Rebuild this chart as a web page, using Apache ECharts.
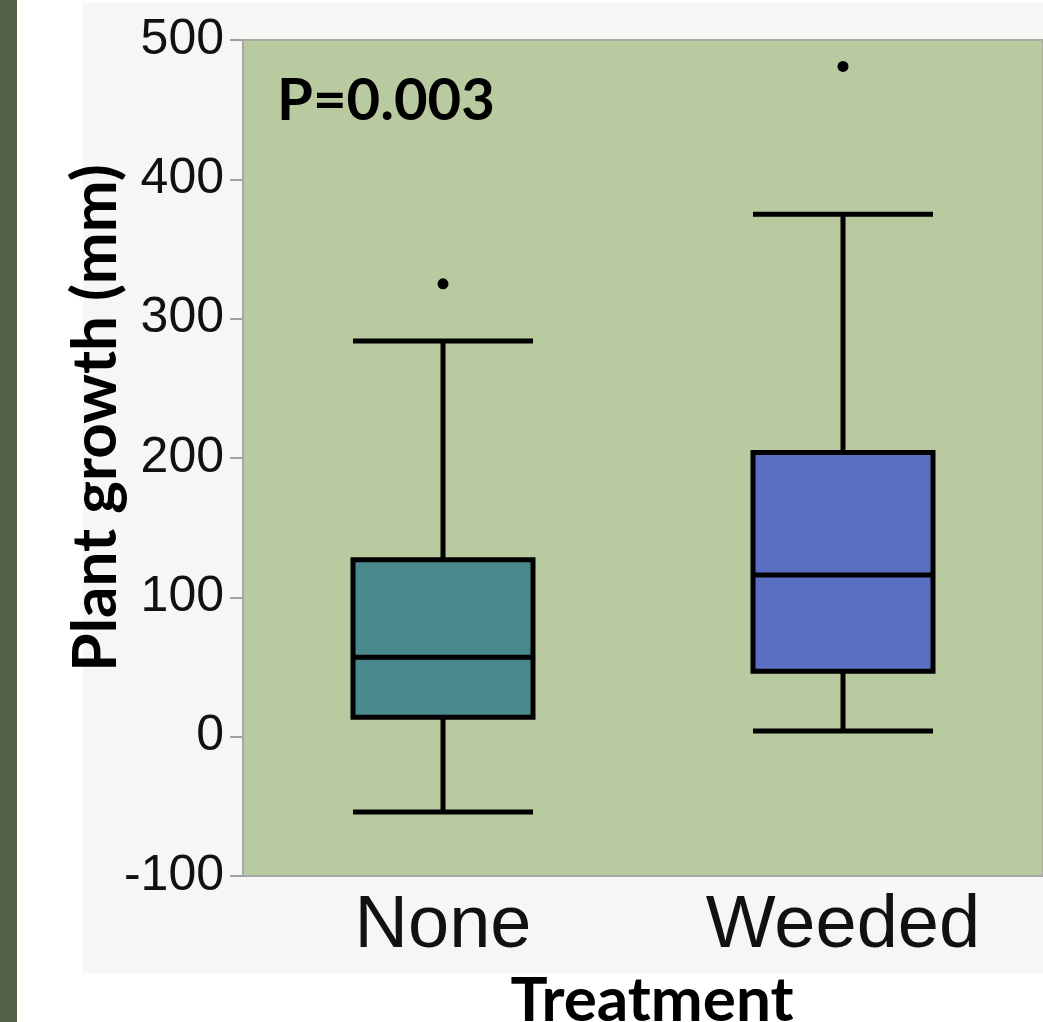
<!DOCTYPE html>
<html>
<head>
<meta charset="utf-8">
<script src="https://cdn.jsdelivr.net/npm/echarts@6/dist/echarts.min.js"></script>
<style>html,body{margin:0;padding:0;background:#fff;}#c{width:1043px;height:1022px;}</style>
</head>
<body>
<div id="c"></div>
<script>
var categories = ['None', 'Weeded'];
// [lower whisker, Q1, median, Q3, upper whisker]
var noneBox = [-54, 14, 57, 127, 284];
var weededBox = [4, 47, 116, 204, 375];
var outliers = [['None', 325], ['Weeded', 481]];
var yTicks = [-100, 0, 100, 200, 300, 400, 500];
var pText = 'P=0.003';

var chart = echarts.init(document.getElementById('c'));
chart.setOption({
  animation: false,
  backgroundColor: '#ffffff',
  graphic: [
    { type: 'rect', z: -10, silent: true, shape: { x: 0, y: 0, width: 17, height: 1022 }, style: { fill: '#53634a' } },
    { type: 'rect', z: -10, silent: true, shape: { x: 83, y: 3, width: 960, height: 970 }, style: { fill: '#f6f6f4' } },
    { type: 'text', z: 10, left: 277, top: 72, style: { text: pText, font: 'bold 58px Lato', fill: '#000' } },
    { type: 'text', z: 10, x: 96, y: 418, rotation: Math.PI / 2,
      style: { text: 'Plant growth (mm)', font: 'bold 62px Lato', fill: '#000', align: 'center', verticalAlign: 'middle' } },
    { type: 'text', z: 10, x: 652, y: 1001,
      style: { text: 'Treatment', font: 'bold 62px Lato', fill: '#000', align: 'center', verticalAlign: 'middle' } }
  ],
  grid: { left: 243, right: 0, top: 40, bottom: 146, show: true, backgroundColor: '#b9c9a0', borderWidth: 2, borderColor: '#a9ad9f' },
  xAxis: {
    type: 'category', data: categories, boundaryGap: true,
    axisLine: { show: true, onZero: false, lineStyle: { color: '#a8a8a8', width: 2 } },
    axisTick: { show: false },
    axisLabel: { fontFamily: 'Liberation Sans', fontSize: 74, color: '#111', margin: 14 },
    splitLine: { show: false }
  },
  yAxis: {
    type: 'value', min: -100, max: 500, interval: 100,
    axisLine: { show: true, lineStyle: { color: '#a8a8a8', width: 2 } },
    axisTick: { show: true, length: 13, lineStyle: { color: '#a0a0a0', width: 2 } },
    axisLabel: { fontFamily: 'Liberation Sans', fontSize: 50, color: '#111', margin: 19,
      formatter: function (v) { return yTicks.indexOf(v) >= 0 ? String(v) : ''; } },
    splitLine: { show: false }
  },
  series: [
    {
      type: 'boxplot',
      boxWidth: [180, 180],
      itemStyle: { borderColor: '#000', borderWidth: 5 },
      data: [
        { value: noneBox, itemStyle: { color: '#4a898b', borderColor: '#000' } },
        { value: weededBox, itemStyle: { color: '#5a6fc1', borderColor: '#000' } }
      ]
    },
    {
      type: 'scatter', data: outliers, symbol: 'circle', symbolSize: 11,
      itemStyle: { color: '#000', opacity: 1 }
    }
  ]
});
</script>
</body>
</html>
